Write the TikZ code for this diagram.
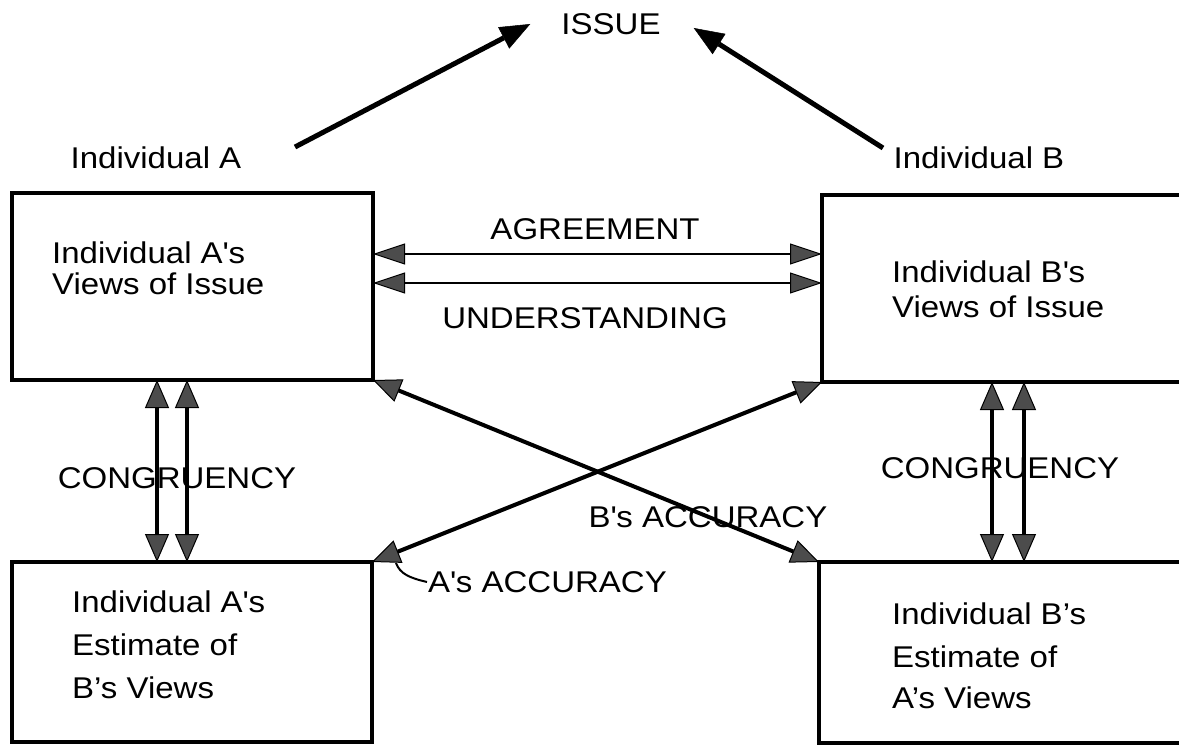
\documentclass[tikz,border=0pt]{standalone}
\usepackage{fontspec}
\setmainfont{Liberation Sans}[FakeStretch=1.1]
\usetikzlibrary{arrows.meta}
\begin{document}
\begin{tikzpicture}[x=1pt,y=-1pt,
  box/.style={draw, line width=4.5pt, rectangle, inner sep=0pt, outer sep=0pt, anchor=north west},
  lbl/.style={font=\fontsize{30}{32}\selectfont, inner sep=0pt},
  tl/.style={lbl, anchor=base west},
  gt/.tip={Triangle[length=28pt,width=24pt,fill=black!70,line width=1pt]},
  ht/.tip={Triangle[length=32pt,width=21pt,fill=black!70,line width=1pt]},
  bt/.tip={Triangle[length=30pt,width=24pt,line width=0.5pt]},
  topconn/.style={line width=5pt, -bt},
  hconn/.style={line width=2pt, ht-ht},
  vconn/.style={line width=4pt, gt-gt},
  xconn/.style={line width=4pt, gt-gt}]
\useasboundingbox (0,0) rectangle (1179,746);
\clip (0,0) rectangle (1179,746);

% boxes
\node[box, minimum width=361pt, minimum height=187pt] (AV) at (12,193) {};
\node[box, minimum width=380pt, minimum height=187pt] (BV) at (822,195) {};
\node[box, minimum width=360pt, minimum height=180pt] (AE) at (12,562) {};
\node[box, minimum width=380pt, minimum height=181pt] (BE) at (819,562) {};

% box texts
\node[tl] (av1) at (52,264) {Individual A\textquotesingle s};
\node[tl] (av2) at (52,295) {Views of Issue};
\node[tl] (bv1) at (892,283) {Individual B\textquotesingle s};
\node[tl] (bv2) at (892,318) {Views of Issue};
\node[tl] (ae1) at (72,612) {Individual A\textquotesingle s};
\node[tl] (ae2) at (72,655) {Estimate of};
\node[tl] (ae3) at (72,698) {B’s Views};
\node[tl] (be1) at (892,624) {Individual B’s};
\node[tl] (be2) at (892,667) {Estimate of};
\node[tl] (be3) at (892,708) {A’s Views};

% top
\node[lbl] (ISSUE) at (611,24) {ISSUE};
\node[lbl] (IA) at (156,158) {Individual A};
\node[lbl] (IB) at (979,158) {Individual B};
\coordinate (sA) at (295,147);
\coordinate (sB) at (883,148);
\draw[topconn] (sA) -- ([xshift=-31pt]ISSUE.west);
\draw[topconn] (sB) -- ([shift={(33pt,-4pt)}]ISSUE.east);

% agreement / understanding
\node[lbl] (AGR) at (595,229) {AGREEMENT};
\node[lbl] (UND) at (585,318) {UNDERSTANDING};
\draw[hconn] ([yshift=-61pt]AV.north east) -- ([yshift=-59pt]BV.north west);
\draw[hconn] ([yshift=-90pt]AV.north east) -- ([yshift=-88pt]BV.north west);

% congruency
\node[lbl] (CL) at (177,478) {CONGRUENCY};
\node[lbl] (CR) at (1000,468) {CONGRUENCY};
\draw[vconn] ([xshift=145pt]AV.south west) -- ([xshift=145pt]AE.north west);
\draw[vconn] ([xshift=175pt]AV.south west) -- ([xshift=175pt]AE.north west);
\draw[vconn] ([xshift=170pt]BV.south west) -- ([xshift=173pt]BE.north west);
\draw[vconn] ([xshift=202pt]BV.south west) -- ([xshift=205pt]BE.north west);

% accuracy
\node[lbl] (BACC) at (708,517) {B\textquotesingle s ACCURACY};
\node[lbl, anchor=west] (AACC) at (428,582) {A\textquotesingle s ACCURACY};
\draw[xconn] (AV.south east) -- (BE.north west);
\draw[xconn] (BV.south west) -- (AE.north east);
\coordinate (ldr) at (396,563);
\draw[line width=2pt] (ldr) .. controls (400,574) and (410,578) .. ([xshift=-1pt]AACC.west);
\end{tikzpicture}
\end{document}
